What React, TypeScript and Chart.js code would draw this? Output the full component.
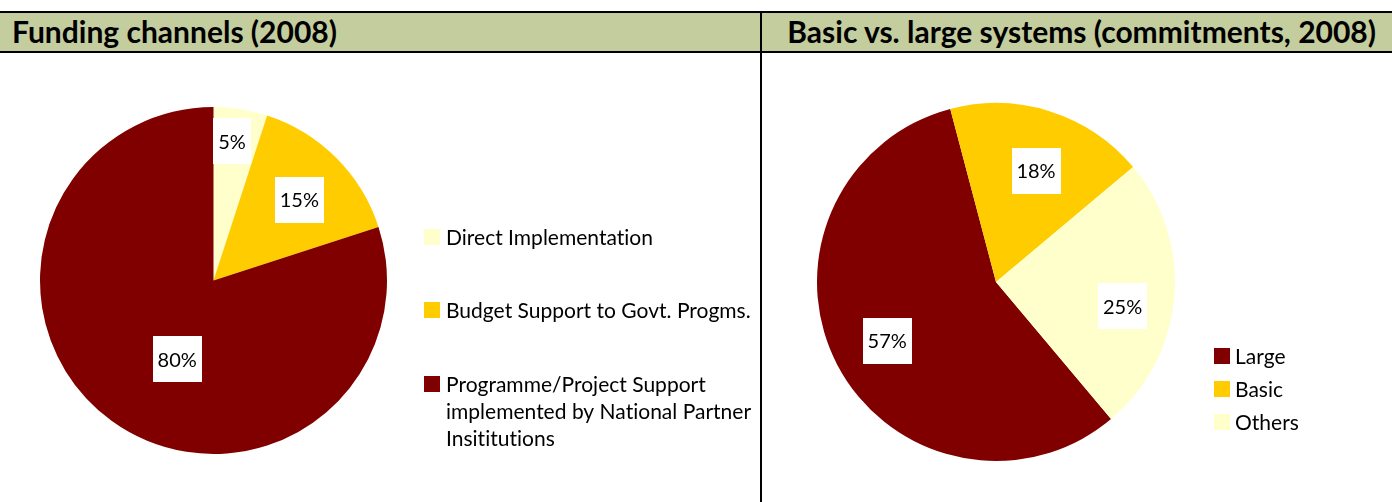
import React, { useEffect, useRef } from "react";
import { Chart, registerables } from "chart.js";

Chart.register(...registerables);

// ---------- data ----------
const fundingTitle = "Funding channels (2008)";
const fundingCategories: (string | string[])[] = [
  "Direct Implementation",
  "Budget Support to Govt. Progms.",
  ["Programme/Project Support", "implemented by National Partner", "Insititutions"],
];
const fundingValues = [5, 15, 80];
const fundingColors = ["#FFFFCC", "#FFCC00", "#800000"];

const systemsTitle = "Basic vs. large systems (commitments, 2008)";
const systemsCategories: string[] = ["Large", "Basic", "Others"];
const systemsValues = [57, 18, 25];
const systemsColors = ["#800000", "#FFCC00", "#FFFFCC"];

const FONT = "Lato, 'Open Sans', 'DejaVu Sans', sans-serif";

function noLigatures(ctx: any) {
  try {
    ctx.letterSpacing = "0.01px";
  } catch (e) {
    /* ignore */
  }
}

// ---------- plugins ----------
const sliceLabels = {
  id: "sliceLabels",
  afterDatasetsDraw(chart: any, _args: any, opts: any) {
    const meta = chart.getDatasetMeta(0);
    const values = chart.data.datasets[0].data as number[];
    const ctx = chart.ctx as CanvasRenderingContext2D;
    ctx.save();
    ctx.font = opts.font;
    noLigatures(ctx);
    ctx.textAlign = "center";
    ctx.textBaseline = "middle";
    meta.data.forEach((arc: any, i: number) => {
      const p = arc.getProps(["x", "y", "startAngle", "endAngle", "outerRadius"], true);
      const mid = (p.startAngle + p.endAngle) / 2 + ((opts.angleShift?.[i] ?? 0) * Math.PI) / 180;
      const r = p.outerRadius * (opts.radial?.[i] ?? 0.7);
      const cx = p.x + Math.cos(mid) * r;
      const cy = p.y + Math.sin(mid) * r;
      const text = `${values[i]}%`;
      const w = Math.round(ctx.measureText(text).width + opts.padX * 2);
      const h = opts.boxH;
      ctx.fillStyle = "#FFFFFF";
      ctx.fillRect(Math.round(cx - w / 2), Math.round(cy - h / 2), w, h);
      ctx.fillStyle = "#000000";
      ctx.fillText(text, cx, cy + 1);
    });
    ctx.restore();
  },
};

const sideLegend = {
  id: "sideLegend",
  afterDraw(chart: any, _args: any, opts: any) {
    const ctx = chart.ctx as CanvasRenderingContext2D;
    const labels = chart.data.labels as (string | string[])[];
    const colors = chart.data.datasets[0].backgroundColor as string[];
    ctx.save();
    ctx.font = opts.font;
    noLigatures(ctx);
    ctx.textAlign = "left";
    ctx.textBaseline = "middle";
    labels.forEach((lab, i) => {
      const cy = opts.rows[i];
      ctx.fillStyle = colors[i];
      ctx.fillRect(opts.boxX, cy - opts.box / 2, opts.box, opts.box);
      ctx.fillStyle = "#000000";
      const lines = Array.isArray(lab) ? lab : [lab];
      lines.forEach((ln, j) => ctx.fillText(ln, opts.textX, cy + j * opts.lineH + 1));
    });
    ctx.restore();
  },
};

function PieChart(props: {
  width: number;
  height: number;
  labels: (string | string[])[];
  values: number[];
  colors: string[];
  rotation: number;
  padding: { left: number; right: number; top: number; bottom: number };
  labelOpts: any;
  legendOpts: any;
}) {
  const ref = useRef<HTMLCanvasElement | null>(null);
  useEffect(() => {
    if (!ref.current) return;
    const chart = new Chart(ref.current, {
      type: "pie",
      data: {
        labels: props.labels as any,
        datasets: [
          {
            data: props.values,
            backgroundColor: props.colors,
            borderWidth: 0,
          },
        ],
      },
      options: {
        responsive: false,
        animation: false,
        devicePixelRatio: 1,
        rotation: props.rotation,
        layout: { padding: props.padding },
        plugins: {
          legend: { display: false },
          tooltip: { enabled: false },
          title: { display: false },
          sliceLabels: props.labelOpts,
          sideLegend: props.legendOpts,
        } as any,
      },
      plugins: [sliceLabels, sideLegend],
    });
    return () => chart.destroy();
  }, []);
  return (
    <canvas
      ref={ref}
      width={props.width}
      height={props.height}
      style={{ display: "block", fontVariantLigatures: "none" }}
    />
  );
}

export default function App() {
  const titleStyle: React.CSSProperties = {
    position: "absolute",
    top: 14,
    fontFamily: FONT,
    fontWeight: 700,
    fontSize: 30,
    lineHeight: "34px",
    color: "#000",
    whiteSpace: "nowrap",
  };
  return (
    <div
      style={{
        position: "absolute",
        left: 0,
        top: 0,
        width: 1392,
        height: 502,
        background: "#FFFFFF",
        overflow: "hidden",
      }}
    >
      <div
        style={{
          position: "absolute",
          left: 0,
          top: 11,
          width: 1392,
          height: 42,
          boxSizing: "border-box",
          background: "#C4CD9E",
          borderTop: "2px solid #000",
          borderBottom: "2px solid #000",
        }}
      />
      <div style={{ ...titleStyle, left: 12 }}>{fundingTitle}</div>
      <div style={{ ...titleStyle, right: 16 }}>{systemsTitle}</div>
      <div style={{ position: "absolute", left: 760, top: 11, width: 2, height: 491, background: "#000" }} />

      <div style={{ position: "absolute", left: 0, top: 53 }}>
        <PieChart
          width={760}
          height={449}
          labels={fundingCategories}
          values={fundingValues}
          colors={fundingColors}
          rotation={0}
          padding={{ left: 40, right: 373, top: 54, bottom: 48 }}
          labelOpts={{
            font: `20px ${FONT}`,
            padX: 5,
            boxH: 46,
            radial: [0.81, 0.68, 0.5],
            angleShift: [-1.4, 1.7, -11.3],
          }}
          legendOpts={{
            font: `21px ${FONT}`,
            box: 16,
            boxX: 424,
            textX: 446,
            rows: [237 - 53, 310 - 53, 384 - 53],
            lineH: 27,
          }}
        />
      </div>

      <div style={{ position: "absolute", left: 762, top: 53 }}>
        <PieChart
          width={630}
          height={449}
          labels={systemsCategories}
          values={systemsValues}
          colors={systemsColors}
          rotation={140}
          padding={{ left: 55, right: 217, top: 50, bottom: 41 }}
          labelOpts={{
            font: `20px ${FONT}`,
            padX: 5,
            boxH: 46,
            radial: [0.69, 0.66, 0.72],
            angleShift: [-0.9, 2.2, 5.8],
          }}
          legendOpts={{
            font: `21px ${FONT}`,
            box: 16,
            boxX: 1214 - 762,
            textX: 1235 - 762,
            rows: [356 - 53, 389 - 53, 422 - 53],
            lineH: 27,
          }}
        />
      </div>
    </div>
  );
}
